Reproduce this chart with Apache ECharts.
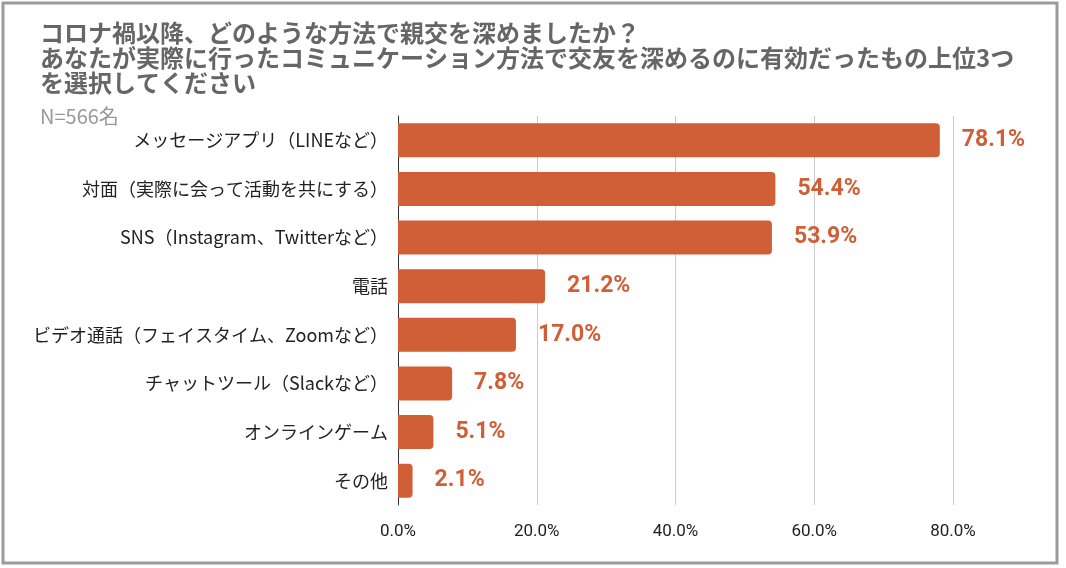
<!DOCTYPE html>
<html>
<head>
<meta charset="utf-8">
<script src="https://cdn.jsdelivr.net/npm/echarts@6/dist/echarts.min.js"></script>
<style>
  html, body { margin: 0; padding: 0; background: #fff; }
  #chart { width: 1066px; height: 568px; }
</style>
</head>
<body>
<div id="chart"></div>
<script>
// 回答項目（上から順）
const categories = [
    'メッセージアプリ（LINEなど）',
    '対面（実際に会って活動を共にする）',
    'SNS（Instagram、Twitterなど）',
    '電話',
    'ビデオ通話（フェイスタイム、Zoomなど）',
    'チャットツール（Slackなど）',
    'オンラインゲーム',
    'その他'
];
const values = [78.1, 54.4, 53.9, 21.2, 17.0, 7.8, 5.1, 2.1];
const xTicks = [0, 20, 40, 60, 80];

const titleLines = [
    'コロナ禍以降、どのような方法で親交を深めましたか？',
    'あなたが実際に行ったコミュニケーション方法で交友を深めるのに有効だったもの上位3つ',
    'を選択してください'
];
const subtitle = 'N=566名';

const barColor = '#D05F38';
const jpFont = '"Noto Sans CJK JP", "Noto Sans", sans-serif';

const chart = echarts.init(document.getElementById('chart'));

const options = {
    animation: false,
    backgroundColor: '#fff',
    title: [
        {
            text: titleLines.join('\n'),
            left: 35,
            top: 15,
            textStyle: {
                fontFamily: jpFont,
                fontSize: 24,
                fontWeight: 'bold',
                color: '#666',
                lineHeight: 25
            }
        },
        {
            text: subtitle,
            left: 35,
            top: 101,
            textStyle: {
                fontFamily: jpFont,
                fontSize: 20,
                fontWeight: 'normal',
                color: '#999'
            }
        }
    ],
    graphic: [
        {
            type: 'rect',
            shape: { x: 3, y: 3, width: 1054, height: 560 },
            style: { fill: 'none', stroke: '#9b9b9b', lineWidth: 3 },
            silent: true
        }
    ],
    grid: {
        left: 398,
        right: 113,
        top: 116,
        bottom: 63
    },
    xAxis: {
        type: 'value',
        min: 0,
        max: 80,
        interval: 20,
        axisLine: { show: false },
        axisTick: { show: false },
        axisLabel: {
            fontFamily: 'Roboto, sans-serif',
            fontSize: 17,
            color: '#222',
            margin: 18,
            formatter: v => (xTicks.includes(v) ? v.toFixed(1) + '%' : '')
        },
        splitLine: { lineStyle: { color: '#cccccc', width: 1 } }
    },
    yAxis: {
        type: 'category',
        data: categories,
        inverse: true,
        axisLine: { show: true, lineStyle: { color: '#333', width: 1 } },
        axisTick: { show: false },
        axisLabel: {
            fontFamily: jpFont,
            fontSize: 18,
            color: '#222',
            margin: 10
        }
    },
    series: [
        {
            name: '割合',
            type: 'bar',
            data: values,
            barCategoryGap: '30%',
            itemStyle: { color: barColor, borderRadius: [0, 4, 4, 0] },
            label: {
                show: true,
                position: 'right',
                distance: 22,
                fontFamily: 'Roboto, sans-serif',
                fontSize: 23,
                fontWeight: 'bold',
                color: barColor,
                formatter: p => p.value.toFixed(1) + '%'
            }
        }
    ]
};

chart.setOption(options);

window.addEventListener('resize', () => {
    chart.resize();
});
</script>
</body>
</html>
